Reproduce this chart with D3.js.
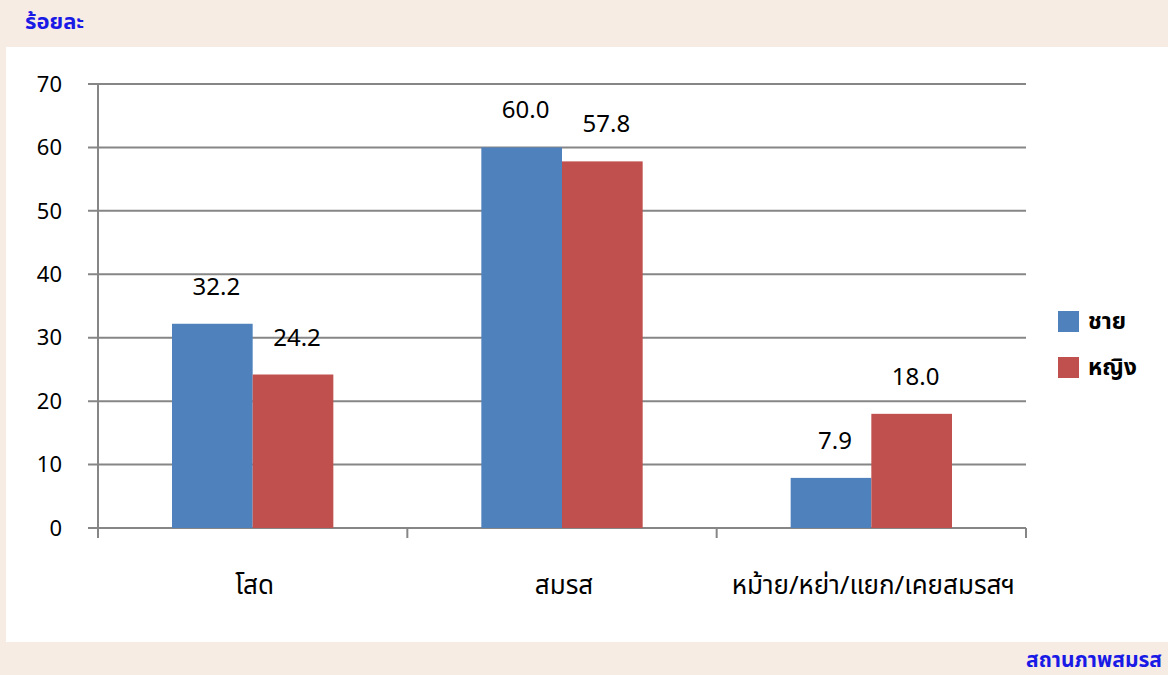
<!DOCTYPE html>
<html>
<head>
<meta charset="utf-8">
<script src="https://cdn.jsdelivr.net/npm/d3@7"></script>
<style>
  body { margin: 0; background: #F7ECE4; }
  svg { display: block; font-family: Tahoma, "Noto Sans Thai", "Noto Sans", sans-serif; }
</style>
</head>
<body>
<div id="main"></div>
<script>
// Data
const categories = ['โสด', 'สมรส', 'หม้าย/หย่า/แยก/เคยสมรสฯ'];
const seriesNames = ['ชาย', 'หญิง'];
const male = [32.2, 60.0, 7.9];
const female = [24.2, 57.8, 18.0];
const yTicks = [0, 10, 20, 30, 40, 50, 60, 70];

const colors = ['#4F81BD', '#C0504D'];

// Dimensions
const w = 1168;
const h = 675;
const padL = 98, padR = 1026, padT = 84, padB = 528;

const svg = d3.select('#main')
    .append('svg')
    .attr('width', w)
    .attr('height', h);

// background panels
svg.append('rect').attr('x', 0).attr('y', 0).attr('width', w).attr('height', h).attr('fill', '#F7ECE4');
svg.append('rect').attr('x', 6).attr('y', 47).attr('width', w - 6).attr('height', 595).attr('fill', '#fff');

// Scales
const xScale = d3.scaleBand()
    .domain(categories)
    .range([padL, padR]);

const yScale = d3.scaleLinear()
    .domain([0, 70])
    .range([padB, padT]);

const inner = d3.scaleBand()
    .domain(seriesNames)
    .range([74, xScale.bandwidth() - 74]);

// Grid
svg.append('g')
    .selectAll('line')
    .data(yTicks)
    .enter()
    .append('line')
    .attr('x1', padL - 10)
    .attr('x2', padR)
    .attr('y1', d => yScale(d))
    .attr('y2', d => yScale(d))
    .attr('stroke', '#868686')
    .attr('stroke-width', 2);

// y axis line
svg.append('line')
    .attr('x1', padL).attr('x2', padL)
    .attr('y1', padT).attr('y2', padB + 10)
    .attr('stroke', '#868686').attr('stroke-width', 2);

// category ticks
const xTickPos = categories.map(c => xScale(c)).concat([padR]);
svg.append('g')
    .selectAll('line')
    .data(xTickPos)
    .enter()
    .append('line')
    .attr('x1', d => d).attr('x2', d => d)
    .attr('y1', padB).attr('y2', padB + 10)
    .attr('stroke', '#868686').attr('stroke-width', 2);

// y labels
svg.append('g')
    .selectAll('text')
    .data(yTicks)
    .enter()
    .append('text')
    .attr('x', 62)
    .attr('y', d => yScale(d))
    .attr('dy', '0.35em')
    .attr('text-anchor', 'end')
    .style('font-size', '22px')
    .text(d => d);

// Bars
const rows = [];
categories.forEach((c, i) => {
    rows.push({ cat: c, s: seriesNames[0], v: male[i], col: colors[0] });
    rows.push({ cat: c, s: seriesNames[1], v: female[i], col: colors[1] });
});

svg.append('g')
    .selectAll('rect')
    .data(rows)
    .enter()
    .append('rect')
    .attr('x', d => xScale(d.cat) + inner(d.s))
    .attr('y', d => yScale(d.v))
    .attr('width', inner.bandwidth())
    .attr('height', d => padB - yScale(d.v))
    .attr('fill', d => d.col);

// value labels
svg.append('g')
    .selectAll('text')
    .data(rows)
    .enter()
    .append('text')
    .attr('x', d => xScale(d.cat) + inner(d.s) + inner.bandwidth() / 2 + 4)
    .attr('y', d => yScale(d.v) - 29)
    .attr('text-anchor', 'middle')
    .style('font-size', '24px')
    .text(d => d.v.toFixed(1));

// category labels
svg.append('g')
    .selectAll('text')
    .data(categories)
    .enter()
    .append('text')
    .attr('x', d => xScale(d) + xScale.bandwidth() / 2 + 2)
    .attr('y', 594)
    .attr('text-anchor', 'middle')
    .style('font-size', '26px')
    .text(d => d);

// Legend
const legend = svg.append('g');
seriesNames.forEach((s, i) => {
    legend.append('rect')
        .attr('x', 1058).attr('y', 311 + i * 46)
        .attr('width', 21).attr('height', 21)
        .attr('fill', colors[i]);
    legend.append('text')
        .attr('x', 1088).attr('y', 321 + i * 46)
        .attr('dy', '0.35em')
        .style('font-size', '23px')
        .style('font-weight', 'bold')
        .text(s);
});

// Titles
svg.append('text')
    .attr('x', 25).attr('y', 29)
    .style('font-size', '22px')
    .style('font-weight', 'bold')
    .attr('fill', '#1A1AE6')
    .text('ร้อยละ');

svg.append('text')
    .attr('x', 1162).attr('y', 667)
    .attr('text-anchor', 'end')
    .style('font-size', '21px')
    .style('font-weight', 'bold')
    .attr('fill', '#1A1AE6')
    .text('สถานภาพสมรส');
</script>
</body>
</html>
